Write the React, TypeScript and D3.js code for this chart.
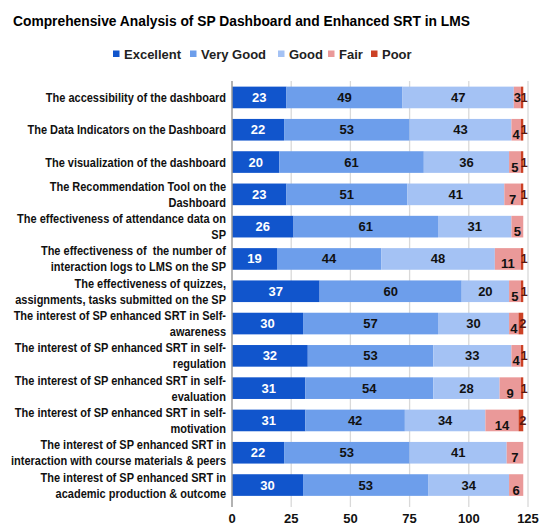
import * as d3 from "d3"

const categories = [
  ["The accessibility of the dashboard"],
  ["The Data Indicators on the Dashboard"],
  ["The visualization of the dashboard"],
  ["The Recommendation Tool on the", "Dashboard"],
  ["The effectiveness of attendance data on", "SP"],
  ["The effectiveness of  the number of", "interaction logs to LMS on the SP"],
  ["The effectiveness of quizzes,", "assignments, tasks submitted on the SP"],
  ["The interest of SP enhanced SRT in Self-", "awareness"],
  ["The interest of SP enhanced SRT in self-", "regulation"],
  ["The interest of SP enhanced SRT in self-", "evaluation"],
  ["The interest of SP enhanced SRT in self-", "motivation"],
  ["The interest of SP enhanced SRT in", "interaction with course materials & peers"],
  ["The interest of SP enhanced SRT in", "academic production & outcome"],
]

const seriesNames = ["Excellent", "Very Good", "Good", "Fair", "Poor"]
const excellent = [23, 22, 20, 23, 26, 19, 37, 30, 32, 31, 31, 22, 30]
const veryGood = [49, 53, 61, 51, 61, 44, 60, 57, 53, 54, 42, 53, 53]
const good = [47, 43, 36, 41, 31, 48, 20, 30, 33, 28, 34, 41, 34]
const fair = [3, 4, 5, 7, 5, 11, 5, 4, 4, 9, 14, 7, 6]
const poor = [1, 1, 1, 1, 0, 1, 1, 2, 1, 1, 2, 0, 0]
const xTicks = [0, 25, 50, 75, 100, 125]

const colors = ["#1155cc", "#6d9eeb", "#a4c2f4", "#ea9999", "#cc4125"]
const legendX = [113, 190, 278, 328, 371]

const W = 540
const H = 525
const font = "'Liberation Sans', Arial, sans-serif"

export default function App() {
  const keys = categories.map((_, i) => String(i))
  const rows = keys.map((k, i) => ({
    key: k,
    values: [excellent[i], veryGood[i], good[i], fair[i], poor[i]],
  }))

  const x = d3.scaleLinear().domain([0, 125]).range([232, 528])
  const y = d3.scaleBand().domain(keys).range([81.3, 501.2]).paddingInner(0.33).paddingOuter(0.165)
  const stack = d3
    .stack<{ key: string; values: number[] }, number>()
    .keys([0, 1, 2, 3, 4])
    .value((d, k) => d.values[k])
  const layers = stack(rows)

  return (
    <svg width={W} height={H} style={{ position: "absolute", left: 0, top: 0, background: "#fff" }} fontFamily={font}>
      <text x={13} y={26} fontSize={13.8} fontWeight="bold" fill="#000">
        Comprehensive Analysis of SP Dashboard and Enhanced SRT in LMS
      </text>

      {seriesNames.map((name, i) => (
        <g key={name}>
          <rect x={legendX[i]} y={50.5} width={6.5} height={6.5} fill={colors[i]} />
          <text x={legendX[i] + 11} y={59} fontSize={13} fontWeight="bold" fill="#222">
            {name}
          </text>
        </g>
      ))}

      {xTicks.map((t) => (
        <g key={t}>
          {t > 0 && <line x1={x(t)} x2={x(t)} y1={81} y2={507} stroke="#d9d9d9" strokeWidth={1.3} />}
          <text x={x(t)} y={523} textAnchor="middle" fontSize={13} fontWeight="bold" fill="#111">
            {t}
          </text>
        </g>
      ))}

      {layers.map((layer, si) => (
        <g key={si} fill={colors[si]}>
          {layer.map((d, ri) =>
            d[1] - d[0] > 0 ? (
              <rect
                key={ri}
                x={x(d[0])}
                y={y(keys[ri])!}
                width={x(d[1]) - x(d[0])}
                height={y.bandwidth()}
              />
            ) : null
          )}
        </g>
      ))}

      {layers.map((layer, si) => (
        <g key={"l" + si}>
          {layer.map((d, ri) => {
            const v = d[1] - d[0]
            if (v <= 0) return null
            const cy = y(keys[ri])! + y.bandwidth() / 2
            const cx = (x(d[0]) + x(d[1])) / 2
            let dx = 0
            let dy = 0
            if (si === 3 && ri > 0) dy = 5
            if (si === 4) dx = 2
            return (
              <text
                key={ri}
                x={cx + dx}
                y={cy + dy + 4.5}
                textAnchor="middle"
                fontSize={13}
                fontWeight="bold"
                fill={si === 0 ? "#fff" : si === 4 ? "#5a1a10" : "#111"}
              >
                {v}
              </text>
            )
          })}
        </g>
      ))}

      <line x1={232} x2={232} y1={81} y2={507} stroke="#999" strokeWidth={1.5} />

      {categories.map((lines, i) => {
        const cy = y(keys[i])! + y.bandwidth() / 2
        const start = cy - ((lines.length - 1) * 16) / 2
        return (
          <text
            key={i}
            transform="translate(226,0) scale(0.88,1)"
            textAnchor="end"
            fontSize={12.5}
            fontWeight="bold"
            fill="#111"
          >
            {lines.map((ln, j) => (
              <tspan key={j} x={0} y={start + j * 16 + 4.5} style={{ whiteSpace: "pre" }}>
                {ln}
              </tspan>
            ))}
          </text>
        )
      })}
    </svg>
  )
}
